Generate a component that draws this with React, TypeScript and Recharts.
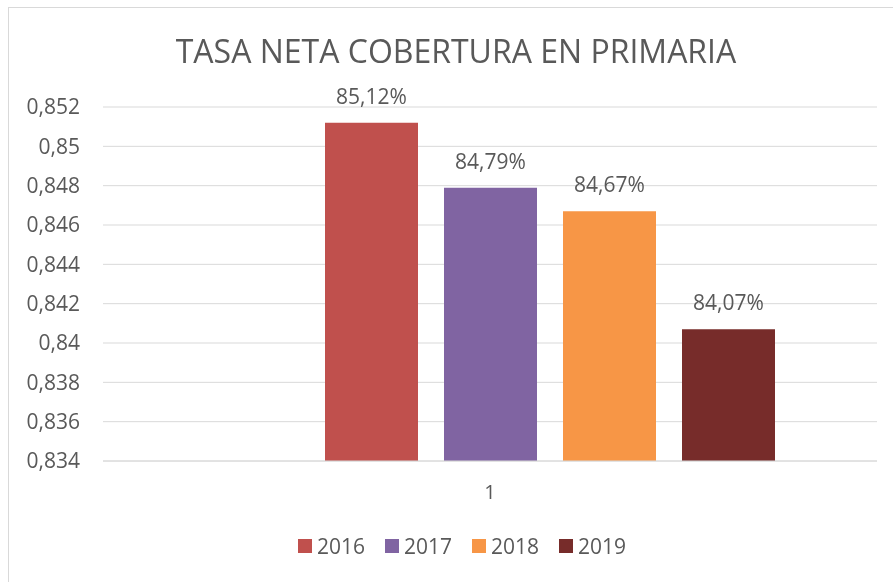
import React from "react";
import { BarChart, Bar, XAxis, YAxis, CartesianGrid, LabelList } from "recharts";

const title = "TASA NETA COBERTURA EN PRIMARIA";
const categories = ["1"];
const seriesNames = ["2016", "2017", "2018", "2019"];
const values2016 = [0.8512];
const values2017 = [0.8479];
const values2018 = [0.8467];
const values2019 = [0.8407];
const seriesColors = ["#C0504D", "#8064A2", "#F79646", "#772C2A"];
const yTicks = [0.834, 0.836, 0.838, 0.84, 0.842, 0.844, 0.846, 0.848, 0.85, 0.852];

const seriesValues = [values2016, values2017, values2018, values2019];
const data = categories.map((c, i) => {
  const row: any = { cat: c, blank: null };
  seriesNames.forEach((s, k) => {
    row[s] = seriesValues[k][i];
  });
  return row;
});

const FONT = "'Open Sans', sans-serif";
const TXT = "#595959";

const fmtTick = (v: number) => {
  let s = v.toFixed(3);
  s = s.replace(/0+$/, "").replace(/\.$/, "");
  return s.replace(".", ",");
};
const fmtLabel = (v: any) =>
  v == null ? "" : (Number(v) * 100).toFixed(2).replace(".", ",") + "%";

export default function App() {
  return (
    <div>
      <div
        style={{
          position: "fixed",
          left: 8,
          top: 7,
          width: 900,
          height: 600,
          borderLeft: "1px solid #d9d9d9",
          borderTop: "1px solid #d9d9d9",
          boxSizing: "border-box",
        }}
      />
      <div style={{ position: "fixed", left: 0, top: 0, width: 893, height: 582 }}>
        <BarChart
          width={893}
          height={582}
          data={data}
          margin={{ top: 107, right: 16, bottom: 71, left: 0 }}
          barSize={93}
          barGap={26}
        >
          <CartesianGrid horizontal={true} vertical={false} stroke="#d9d9d9" strokeWidth={1} />
          <XAxis
            dataKey="cat"
            height={50}
            axisLine={{ stroke: "#d9d9d9" }}
            tickLine={false}
            tickSize={0}
            tickMargin={24}
            tick={{ fill: TXT, fontSize: 20, fontFamily: FONT }}
          />
          <YAxis
            width={103}
            domain={[0.834, 0.852]}
            ticks={yTicks}
            allowDataOverflow={true}
            axisLine={false}
            tickLine={false}
            tickSize={0}
            tickMargin={23}
            tickFormatter={fmtTick}
            tick={{ fill: TXT, fontSize: 21, fontFamily: FONT }}
          />
          <Bar dataKey="blank" legendType="none" fill="#ffffff" isAnimationActive={false} />
          {seriesNames.map((s, k) => (
            <Bar key={s} dataKey={s} name={s} fill={seriesColors[k]} isAnimationActive={false}>
              <LabelList
                dataKey={s}
                position="top"
                offset={19}
                formatter={fmtLabel}
                style={{ fill: TXT, fontSize: 21, fontFamily: FONT }}
              />
            </Bar>
          ))}
        </BarChart>
      </div>
      <div
        style={{
          position: "fixed",
          left: 298,
          top: 532,
          display: "flex",
          fontFamily: FONT,
          fontSize: 21,
          color: TXT,
        }}
      >
        {seriesNames.map((s, k) => (
          <div
            key={s}
            style={{ display: "flex", alignItems: "center", marginRight: 20, height: 28 }}
          >
            <div style={{ width: 14, height: 14, background: seriesColors[k], marginRight: 5 }} />
            <span style={{ lineHeight: "28px" }}>{s}</span>
          </div>
        ))}
      </div>
      <svg
        style={{ position: "fixed", left: 0, top: 0, pointerEvents: "none" }}
        width={893}
        height={582}
      >
        <text x={456} y={63} textAnchor="middle" fontFamily={FONT} fontSize={32} fill={TXT}>
          {title}
        </text>
      </svg>
    </div>
  );
}
